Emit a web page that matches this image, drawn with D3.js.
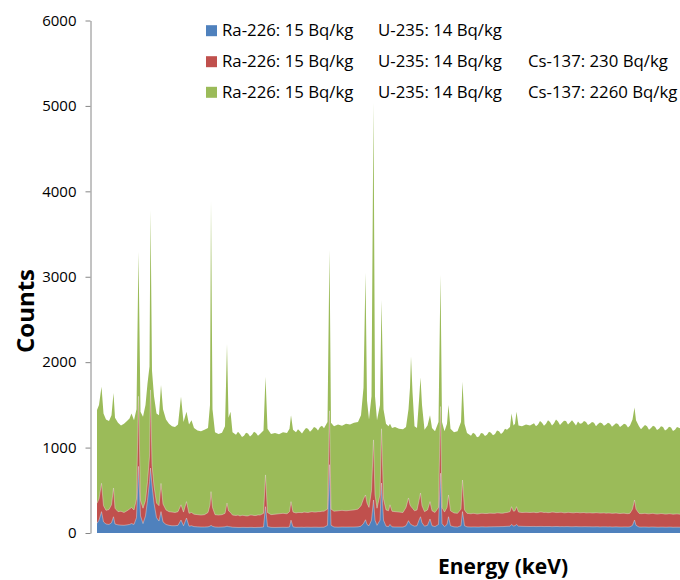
<!DOCTYPE html>
<html><head><meta charset="utf-8">
<script src="https://cdn.jsdelivr.net/npm/d3@7"></script>
<style>body{margin:0;background:#fff}svg{display:block}</style>
</head><body>
<svg id="chart" width="680" height="580"></svg>
<script>
// channel numbers (energy axis, unlabeled)
const channels = [
  2,6,11,15,20,26,31,35,38,44,50,56,62,67,71,76,
  81,85,89,94,99,103,107,109,112,116,121,126,130,134,140,146,
  152,158,164,170,175,181,186,191,196,203,210,217,224,228,230,233,238,245,252,258,
  262,265,269,273,280,284,288,292,296,300,304,308,312,316,320,324,328,335,339,343,350,358,366,374,382,387,390,
  394,400,404,408,412,416,420,424,428,432,436,440,444,448,452,456,463,467,470,476,484,492,500,508,516,524,530,535,539,542,546,
  551,555,558,562,568,571,575,580,585,588,592,598,606,614,620,625,628,630,633,637,642,646,649,652,
  657,663,668,672,678,685,689,692,697,702,705,709,716,723,730,733,737,742,
  750,754,758,762,766,770,774,778,782,786,790,794,798,802,806,810,814,818,822,
  828,831,835,838,841,845,852,860,868,
  876,880,884,888,892,896,900,904,908,912,916,920,924,928,932,936,940,944,948,952,956,960,964,968,972,
  976,980,984,988,992,996,1000,1004,1008,1012,1016,1020,1024,1028,1032,1036,1040,1044,1048,1052,1056,1060,1064,1068,
  1073,1077,1080,
  1086,1090,1094,1098,1102,1106,1110,1114,1118,1122,1126,1130,1134,1138,1142,1146,1150,1154,1158,1162,1168
];
// Ra-226: 15, U-235: 14
const countsBlue = [
  113,150,250,130,105,100,120,190,105,95,92,90,95,100,110,100,
  180,780,200,110,200,380,600,760,560,350,180,140,250,130,100,90,
  85,85,90,152,85,175,80,85,75,72,70,70,72,80,90,78,70,68,70,72,
  80,75,72,68,66,65,65,66,66,65,65,66,66,64,65,66,66,70,308,75,66,65,66,67,66,70,150,
  72,66,67,67,68,66,68,68,67,67,68,68,67,67,68,68,90,800,90,70,68,70,69,70,70,72,80,110,155,100,85,
  150,386,150,90,150,585,150,80,75,100,72,70,70,70,85,144,110,100,90,80,85,150,190,120,
  80,90,164,85,75,100,700,110,75,100,190,85,72,70,85,250,85,72,
  70,71,71,70,70,72,72,71,71,72,72,73,73,74,74,75,75,77,78,
  80,100,82,85,100,80,78,77,76,
  77,75,76,77,77,75,76,76,76,74,75,76,76,74,75,74,75,75,74,73,74,75,74,73,73,
  74,74,73,73,72,72,73,73,71,72,72,72,71,72,70,71,72,71,70,70,71,71,70,72,
  90,152,90,
  70,69,70,70,69,68,70,70,69,68,68,69,69,68,68,69,69,67,68,68,68
];
// + Cs-137: 230
const countsRed = [
  348,400,582,320,265,275,330,527,290,250,255,240,260,280,300,270,
  400,1600,380,290,380,600,900,1675,800,550,350,320,580,340,270,250,
  245,240,250,330,245,367,230,240,220,215,210,215,240,330,484,300,215,210,215,230,
  350,260,240,210,205,210,200,208,205,200,200,210,210,205,205,212,210,230,680,240,215,220,225,230,225,250,367,
  245,235,240,240,238,245,242,240,245,250,245,245,250,250,255,255,280,1430,280,255,260,265,260,265,270,280,320,400,445,350,300,
  500,1090,450,290,450,1220,400,270,260,330,255,250,245,240,300,410,330,310,290,260,270,380,468,320,
  250,270,367,260,240,300,1480,300,245,300,445,260,235,230,280,620,270,230,
  225,230,228,222,225,230,230,228,228,232,232,230,230,236,235,232,232,238,240,
  250,308,255,260,308,245,240,242,240,
  243,238,240,246,245,240,242,238,240,245,244,239,240,242,242,236,238,242,240,237,236,241,240,236,238,
  240,235,236,237,234,235,238,236,233,234,236,232,234,233,230,232,234,230,228,230,232,228,226,232,
  280,386,280,
  230,226,228,230,226,224,228,230,225,222,224,228,226,221,222,226,224,220,222,224,220
];
// + Cs-137: 2260
const countsGreen = [
  1440,1500,1713,1400,1330,1310,1380,1640,1350,1290,1260,1280,1310,1340,1400,1320,
  1450,3294,1420,1360,1500,1750,1950,3782,1900,1600,1400,1380,1733,1450,1330,1280,
  1250,1240,1270,1596,1300,1420,1270,1320,1230,1200,1190,1210,1230,1500,3890,1450,1180,1160,1175,1250,
  2213,1350,1420,1180,1150,1185,1160,1125,1140,1175,1165,1130,1150,1185,1170,1140,1160,1200,1830,1220,1160,1170,1155,1180,1170,1220,1380,
  1210,1180,1215,1190,1165,1200,1230,1220,1185,1210,1240,1230,1200,1240,1255,1225,1300,3314,1290,1250,1270,1255,1280,1270,1290,1300,1380,1700,3048,1550,1330,
  1600,5038,1600,1320,1500,2728,1450,1280,1250,1280,1230,1240,1220,1215,1240,1450,1700,2065,1650,1250,1230,1550,1820,1500,
  1210,1260,1380,1230,1190,1300,3021,1300,1190,1280,1500,1220,1180,1190,1300,1772,1280,1170,
  1140,1175,1160,1120,1130,1170,1165,1135,1150,1185,1175,1145,1160,1200,1190,1160,1180,1220,1210,
  1240,1400,1260,1280,1420,1260,1250,1270,1260,
  1285,1250,1270,1310,1290,1255,1280,1320,1300,1260,1285,1330,1305,1265,1290,1315,1310,1270,1295,1320,1290,1260,1305,1280,1285,
  1310,1300,1265,1280,1300,1290,1250,1275,1295,1285,1255,1270,1290,1280,1245,1265,1285,1275,1240,1260,1280,1270,1235,1260,
  1330,1470,1320,
  1250,1215,1240,1265,1250,1210,1230,1255,1245,1205,1220,1250,1240,1200,1215,1245,1235,1195,1210,1240,1225
];
const yTickValues = [0, 1000, 2000, 3000, 4000, 5000, 6000];
const legendRa = ["Ra-226: 15 Bq/kg", "Ra-226: 15 Bq/kg", "Ra-226: 15 Bq/kg"];
const legendU = ["U-235: 14 Bq/kg", "U-235: 14 Bq/kg", "U-235: 14 Bq/kg"];
const legendCs = ["", "Cs-137: 230 Bq/kg", "Cs-137: 2260 Bq/kg"];
const seriesColors = ["#4F81BD", "#C0504D", "#9BBB59"];

const svg = d3.select("#chart");
const font = "'Open Sans', Lato, sans-serif";

const x = d3.scaleLinear().domain([0, 1168]).range([96, 680]);
const y = d3.scaleLinear().domain([0, 6000]).range([533, 20.5]);

const series = [countsGreen, countsRed, countsBlue];
const seriesCol = [seriesColors[2], seriesColors[1], seriesColors[0]];
const n = Math.min(channels.length, countsBlue.length, countsRed.length, countsGreen.length);
const idx = d3.range(n);

const area = vals => d3.area()
  .x(i => x(channels[i]))
  .y0(y(0))
  .y1(i => y(vals[i]))(idx);
const line = vals => d3.line()
  .x(i => x(channels[i]))
  .y(i => y(vals[i]))(idx);

series.forEach((vals, k) => {
  svg.append("path").attr("d", area(vals)).attr("fill", seriesCol[k]);
});
// faint light edges on top of the front series
[countsRed, countsBlue].forEach(vals => {
  svg.append("path").attr("d", line(vals)).attr("fill", "none")
    .attr("stroke", "rgba(235,225,220,0.55)").attr("stroke-width", 0.8);
});

// y axis
const yAxis = svg.append("g").attr("transform", "translate(90.5,0)")
  .call(d3.axisLeft(y).tickValues(yTickValues).tickSize(5).tickSizeOuter(0).tickPadding(9)
    .tickFormat(d3.format("d")));
yAxis.select(".domain").attr("stroke", "#868686");
yAxis.selectAll(".tick line").attr("stroke", "#868686");
yAxis.selectAll(".tick text").attr("font-family", font).attr("font-size", 15).attr("fill", "#000");

// axis titles
svg.append("text").attr("transform", "translate(34,311) rotate(-90)")
  .attr("text-anchor", "middle").attr("font-family", font).attr("font-weight", "bold")
  .attr("font-size", 24).attr("fill", "#000").text("Counts");
svg.append("text").attr("x", 503).attr("y", 574)
  .attr("text-anchor", "middle").attr("font-family", font).attr("font-weight", "bold")
  .attr("font-size", 21).attr("fill", "#000").text("Energy (keV)");

// legend
const rowsY = [30.7, 61.7, 92.3];
seriesColors.forEach((c, i) => {
  const g = svg.append("g");
  g.append("rect").attr("x", 206).attr("y", rowsY[i] - 5.5).attr("width", 11).attr("height", 11).attr("fill", c);
  const t = [[legendRa[i], 222], [legendU[i], 378], [legendCs[i], 528]];
  t.forEach(([s, xx]) => {
    if (!s) return;
    g.append("text").attr("x", xx).attr("y", rowsY[i] + 5.6)
      .attr("font-family", font).attr("font-size", 16.8).attr("fill", "#000").text(s);
  });
});
</script>
</body></html>
